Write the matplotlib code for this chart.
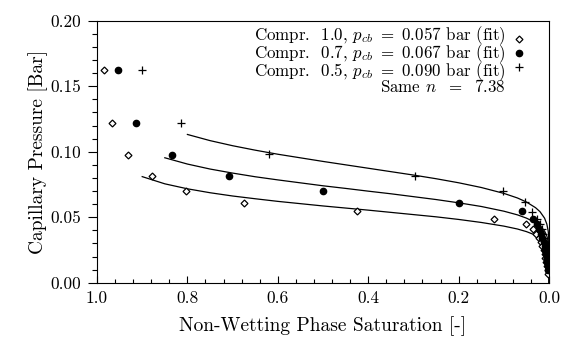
import matplotlib
matplotlib.use("Agg")
import matplotlib.pyplot as plt
from matplotlib.ticker import MultipleLocator, FormatStrFormatter

plt.rcParams['font.family'] = ['cmr10', 'DejaVu Serif']
plt.rcParams['mathtext.fontset'] = 'cm'
plt.rcParams['axes.formatter.use_mathtext'] = True

# ---- data ----
s_c10 = [0.984, 0.966, 0.931, 0.878, 0.803, 0.674, 0.425, 0.121, 0.052, 0.036,
         0.028, 0.022, 0.018, 0.015, 0.012, 0.010, 0.008, 0.006, 0.004, 0.003, 0.002]
p_c10 = [0.1624, 0.1221, 0.0977, 0.0815, 0.0698, 0.0611, 0.0545, 0.0489, 0.0446, 0.0408,
         0.0370, 0.0340, 0.0310, 0.0280, 0.0250, 0.0220, 0.0190, 0.0160, 0.0130, 0.0100, 0.0070]

s_c07 = [0.954, 0.914, 0.833, 0.708, 0.500, 0.199, 0.059, 0.036, 0.026,
         0.022, 0.018, 0.015, 0.012, 0.010, 0.008, 0.007, 0.005, 0.004, 0.003, 0.002]
p_c07 = [0.1624, 0.1221, 0.0977, 0.0815, 0.0698, 0.0611, 0.0545, 0.0489, 0.0448,
         0.0410, 0.0370, 0.0340, 0.0310, 0.0280, 0.0250, 0.0220, 0.0190, 0.0160, 0.0130, 0.0100]

s_c05 = [0.900, 0.814, 0.619, 0.296, 0.101, 0.054, 0.037, 0.026, 0.020,
         0.016, 0.013, 0.011, 0.009, 0.007, 0.006, 0.005, 0.004, 0.003, 0.002]
p_c05 = [0.1624, 0.1221, 0.0980, 0.0817, 0.0698, 0.0614, 0.0540, 0.0489, 0.0448,
         0.0410, 0.0370, 0.0340, 0.0310, 0.0280, 0.0250, 0.0220, 0.0190, 0.0160, 0.0130]

fit_s = [0.90, 0.85, 0.80, 0.75, 0.70, 0.65, 0.60, 0.50, 0.45, 0.40, 0.35, 0.30, 0.25,
         0.20, 0.15, 0.10, 0.07, 0.05, 0.03, 0.02, 0.01, 0.005, 0.002, 0.001, 0.0001, 0.0]
fit_c10 = [0.0810, 0.0755, 0.0717, 0.0687, 0.0662, 0.0641, 0.0621, 0.0586, 0.0570, 0.0554,
           0.0537, 0.0520, 0.0503, 0.0483, 0.0460, 0.0432, 0.0410, 0.0390, 0.0363, 0.0343,
           0.0312, 0.0284, 0.0251, 0.0228, 0.0167, 0.0]
fit_s07 = fit_s[1:]
fit_c07 = [0.0954, 0.0906, 0.0868, 0.0837, 0.0809, 0.0785, 0.0740, 0.0720, 0.0699,
           0.0679, 0.0657, 0.0635, 0.0610, 0.0582, 0.0546, 0.0518, 0.0493, 0.0459, 0.0434,
           0.0394, 0.0358, 0.0316, 0.0288, 0.0211, 0.0]
fit_s05 = fit_s[2:]
fit_c05 = [0.1132, 0.1085, 0.1046, 0.1012, 0.0981, 0.0926, 0.0900, 0.0874,
           0.0848, 0.0822, 0.0794, 0.0763, 0.0727, 0.0682, 0.0647, 0.0616, 0.0573, 0.0542,
           0.0493, 0.0448, 0.0396, 0.0360, 0.0264, 0.0]

legend_labels = [r"Compr.  1.0, $p_{cb}\ =\ $0.057 bar (fit)",
                 r"Compr.  0.7, $p_{cb}\ =\ $0.067 bar (fit)",
                 r"Compr.  0.5, $p_{cb}\ =\ $0.090 bar (fit)"]
same_n_label = r"Same $n\ \ =\ \ $7.38"

fig = plt.figure(figsize=(5.62, 3.41), dpi=100)
ax = fig.add_axes([0.1726, 0.171, 0.8044, 0.768])

lw = 0.9
ax.plot(fit_s, fit_c10, color='black', lw=lw)
ax.plot(fit_s07, fit_c07, color='black', lw=lw)
ax.plot(fit_s05, fit_c05, color='black', lw=lw)

ax.plot(s_c10, p_c10, ls='none', marker='D', ms=3.5, mfc='white', mec='black', mew=0.9)
ax.plot(s_c07, p_c07, ls='none', marker='o', ms=4.5, mfc='black', mec='black')
ax.plot(s_c05, p_c05, ls='none', marker='+', ms=6, mec='black', mew=0.9)

ax.set_xlim(1.0, 0.0)
ax.set_ylim(0.0, 0.20)
ax.xaxis.set_major_locator(MultipleLocator(0.2))
ax.xaxis.set_minor_locator(MultipleLocator(0.04))
ax.yaxis.set_major_locator(MultipleLocator(0.05))
ax.yaxis.set_minor_locator(MultipleLocator(0.01))
ax.xaxis.set_major_formatter(FormatStrFormatter('%.1f'))
ax.yaxis.set_major_formatter(FormatStrFormatter('%.2f'))
ax.tick_params(axis='x', which='major', direction='in', length=5, width=0.8, labelsize=12.5, pad=6)
ax.tick_params(axis='x', which='minor', direction='in', length=3, width=0.8)
ax.tick_params(axis='y', which='major', direction='out', length=6.5, width=0.8, labelsize=12.5, pad=5)
ax.tick_params(axis='y', which='minor', direction='out', length=3.5, width=0.8)
for sp in ax.spines.values():
    sp.set_linewidth(0.8)

ax.set_xlabel("Non-Wetting Phase Saturation [-]", fontsize=14, labelpad=7)
ax.set_ylabel("Capillary Pressure [Bar]", fontsize=14, labelpad=2)

# legend block: one right-aligned text block (incl. "Same n"), markers beside lines
text_x = 0.097
mark_x = 0.066
ys = [0.1862, 0.1755, 0.1648]
markers = [dict(marker='D', ms=3.5, mfc='white', mec='black', mew=0.9),
           dict(marker='o', ms=4.5, mfc='black', mec='black'),
           dict(marker='+', ms=6, mec='black', mew=0.9)]
ax.text(text_x, 0.1702, "\n".join(legend_labels + [same_n_label]), ha='right',
        va='center', multialignment='right', fontsize=12.2, linespacing=0.68)
for y, mk in zip(ys, markers):
    ax.plot([mark_x], [y], ls='none', **mk)

fig.savefig("out.png", dpi=100)
